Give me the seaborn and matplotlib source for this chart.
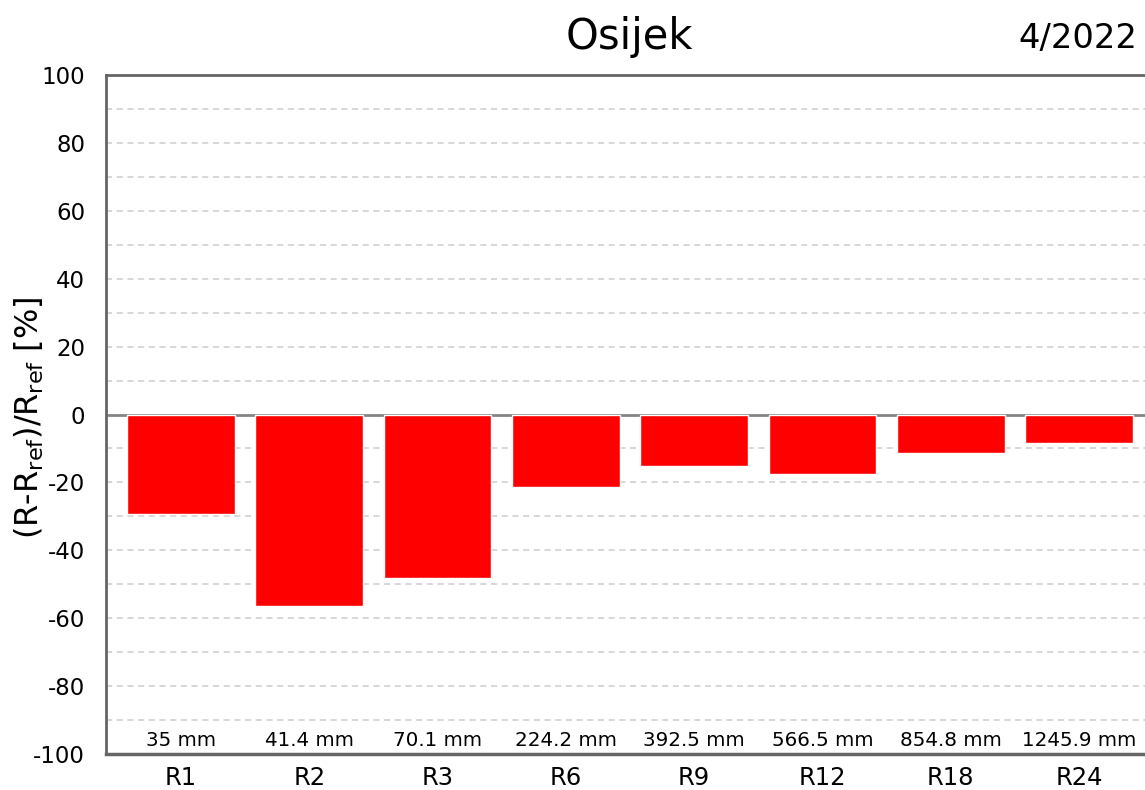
import numpy as np
import pandas as pd
import matplotlib
matplotlib.use("Agg")
import matplotlib.pyplot as plt
import seaborn as sns

# Data
stations = ["R1", "R2", "R3", "R6", "R9", "R12", "R18", "R24"]
rel_diff = [-29.3, -56.4, -48.2, -21.4, -15.2, -17.5, -11.4, -8.3]
amounts = ["35 mm", "41.4 mm", "70.1 mm", "224.2 mm", "392.5 mm",
           "566.5 mm", "854.8 mm", "1245.9 mm"]
title = "Osijek"
period = "4/2022"

df = pd.DataFrame({"station": stations, "diff": rel_diff})

sns.set_style("white")
plt.rcParams["font.family"] = ["DejaVu Sans"]
plt.rcParams["axes.unicode_minus"] = False
plt.rcParams["text.color"] = "black"
plt.rcParams["axes.labelcolor"] = "black"
plt.rcParams["xtick.color"] = "black"
plt.rcParams["ytick.color"] = "black"

fig = plt.figure(figsize=(11.45, 7.9), dpi=100)
ax = fig.add_axes([0.0926, 0.0456, 0.9074, 0.8594])

# dashed grid every 10
for yv in range(-90, 100, 10):
    if yv == 0:
        continue
    ax.axhline(yv, color="#cdcdcd", lw=1.1, ls=(0, (4, 3)), zorder=0)

sns.barplot(data=df, x="station", y="diff", color="#ff0000", width=0.84,
            saturation=1, ax=ax, zorder=2)

ax.axhline(0, color="#858585", lw=2, zorder=1)

ax.set_ylim(-100, 100)
ax.set_xlim(-0.585, 7.515)
ax.set_yticks(range(-100, 101, 20))
ax.tick_params(axis="y", labelsize=16.5, length=3.6, width=1.2, pad=11.5,
               color="#666666")
ax.tick_params(axis="x", labelsize=17.5, length=3.6, width=1.2, pad=5,
               color="#666666")
ax.set_xlabel("")
ax.set_ylabel(r"(R-R$_{\mathrm{ref}}$)/R$_{\mathrm{ref}}$ [%]", fontsize=23)
ax.yaxis.set_label_coords(-0.058, 0.495)

for sp in ["left", "bottom", "top"]:
    ax.spines[sp].set_color("#666666")
    ax.spines[sp].set_linewidth(2)
ax.spines["bottom"].set_linewidth(2.5)
ax.spines["right"].set_visible(False)

for i, txt in enumerate(amounts):
    ax.text(i, -96, txt, ha="center", va="center", fontsize=14.3)

fig.text(0.55, 0.953, title, ha="center", va="center", fontsize=30)
fig.text(0.993, 0.951, period, ha="right", va="center", fontsize=24.3)

fig.savefig("out.png", dpi=100)
